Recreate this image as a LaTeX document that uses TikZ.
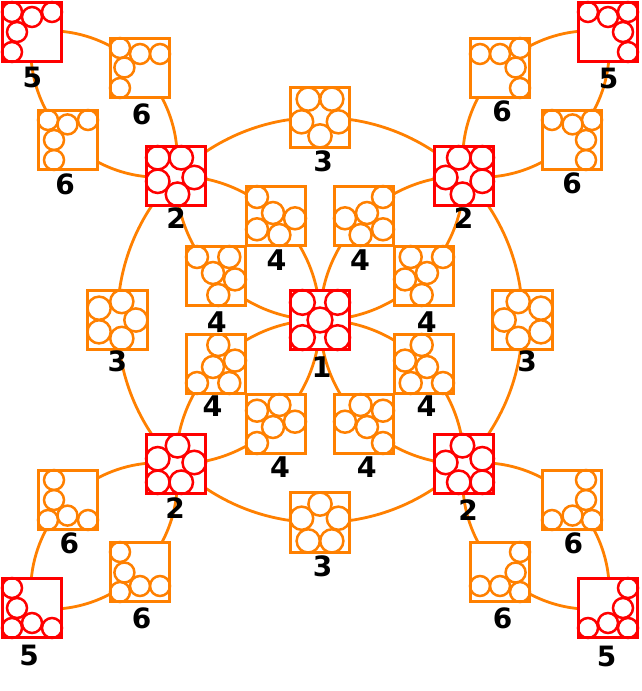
\documentclass[tikz,border=0pt]{standalone}
\usepackage{fontspec}
\newfontfamily\lfA{DejaVu Sans}
\usetikzlibrary{backgrounds}
\definecolor{orng}{RGB}{255,128,0}
\definecolor{rd}{RGB}{255,0,0}
\newcommand\drawpack[4]{\begin{scope}[shift={(#1)}]\foreach \a/\b in {#4} \draw[#2] (\a,\b) circle[radius=#3];\end{scope}}
\begin{document}
\begin{tikzpicture}[x=1pt,y=1pt,
  rbox/.style={rectangle,draw=rd,line width=2.7pt,fill=white,minimum size=59.5pt,inner sep=0pt},
  obox/.style={rectangle,draw=orng,line width=2.7pt,fill=white,minimum size=59.5pt,inner sep=0pt},
  rc/.style={draw=rd,line width=2.5pt},
  oc/.style={draw=orng,line width=2.5pt},
  cn/.style={draw=orng,line width=2.8pt,looseness=0.89},
  lab/.style={font=\lfA\bfseries\fontsize{28}{30}\selectfont,inner sep=0pt},
  labm/.style={font=\lfA\bfseries\fontsize{28.5}{30}\selectfont,inner sep=0pt}]
\useasboundingbox (0,0) rectangle (641,-691);
% boxes
\node[rbox] (n1) at (320,-320) {};
\node[rbox] (n2a) at (176,-176) {};
\node[rbox] (n2b) at (464,-176) {};
\node[rbox] (n2c) at (464,-464) {};
\node[rbox] (n2d) at (176,-464) {};
\node[obox] (n3t) at (320,-117.5) {};
\node[obox] (n3r) at (522.5,-320) {};
\node[obox] (n3b) at (320,-522.5) {};
\node[obox] (n3l) at (117.5,-320) {};
\node[obox] (n4tl) at (276,-216) {};
\node[obox] (n4tr) at (364,-216) {};
\node[obox] (n4lt) at (216,-276) {};
\node[obox] (n4rt) at (424,-276) {};
\node[obox] (n4lb) at (216,-364) {};
\node[obox] (n4rb) at (424,-364) {};
\node[obox] (n4bl) at (276,-424) {};
\node[obox] (n4br) at (364,-424) {};
\node[obox] (n6a) at (140,-68) {};
\node[obox] (n6b) at (68,-140) {};
\node[obox] (n6c) at (500,-68) {};
\node[obox] (n6d) at (572,-140) {};
\node[obox] (n6e) at (572,-500) {};
\node[obox] (n6f) at (500,-572) {};
\node[obox] (n6g) at (140,-572) {};
\node[obox] (n6h) at (68,-500) {};
\node[rbox] (n5a) at (32,-32) {};
\node[rbox] (n5b) at (608,-32) {};
\node[rbox] (n5c) at (608,-608) {};
\node[rbox] (n5d) at (32,-608) {};
% connectors
\begin{scope}[on background layer]
\fill[white] (0,0) rectangle (641,-691);
\draw[cn] (n2a.center) to[bend left=22.5] (n3t.center) to[bend left=22.5] (n2b.center)
  to[bend left=22.5] (n3r.center) to[bend left=22.5] (n2c.center)
  to[bend left=22.5] (n3b.center) to[bend left=22.5] (n2d.center)
  to[bend left=22.5] (n3l.center) to[bend left=22.5] (n2a.center);
\draw[cn] (n2a.center) to[bend left=22] (n4tl.center) to[bend left=23] (n1.center) to[bend left=23] (n4bl.center) to[bend left=22] (n2d.center);
\draw[cn] (n2b.center) to[bend left=22] (n4rt.center) to[bend left=23] (n1.center) to[bend left=23] (n4lt.center) to[bend left=22] (n2a.center);
\draw[cn] (n2c.center) to[bend left=22] (n4br.center) to[bend left=23] (n1.center) to[bend left=23] (n4tr.center) to[bend left=22] (n2b.center);
\draw[cn] (n2d.center) to[bend left=22] (n4lb.center) to[bend left=23] (n1.center) to[bend left=23] (n4rb.center) to[bend left=22] (n2c.center);
\draw[cn] (n5a.center) to[bend left=26.5] (n6a.center) to[bend left=26.5] (n2a.center);
\draw[cn] (n2a.center) to[bend left=26.5] (n6b.center) to[bend left=26.5] (n5a.center);
\draw[cn] (n2b.center) to[bend left=26.5] (n6c.center) to[bend left=26.5] (n5b.center);
\draw[cn] (n5b.center) to[bend left=26.5] (n6d.center) to[bend left=26.5] (n2b.center);
\draw[cn] (n5c.center) to[bend left=26.5] (n6f.center) to[bend left=26.5] (n2c.center);
\draw[cn] (n2c.center) to[bend left=26.5] (n6e.center) to[bend left=26.5] (n5c.center);
\draw[cn] (n2d.center) to[bend left=26.5] (n6g.center) to[bend left=26.5] (n5d.center);
\draw[cn] (n5d.center) to[bend left=26.5] (n6h.center) to[bend left=26.5] (n2d.center);
\end{scope}
% packings
\drawpack{n1}{rc}{12.4pt}{-17.6/17.6,17.6/17.6,0/0,-17.6/-17.6,17.6/-17.6}
\drawpack{n2a}{rc}{11.75pt}{-18.25/18.25,5.25/18.25,18.25/-1.5,-18.25/-5.25,1.5/-18.25}
\drawpack{n2b}{rc}{11.75pt}{18.25/18.25,-5.25/18.25,-18.25/-1.5,18.25/-5.25,-1.5/-18.25}
\drawpack{n2d}{rc}{11.75pt}{-18.25/-18.25,5.25/-18.25,18.25/1.5,-18.25/5.25,1.5/18.25}
\drawpack{n2c}{rc}{11.75pt}{18.25/-18.25,-5.25/-18.25,-18.25/1.5,18.25/5.25,-1.5/18.25}
\drawpack{n3t}{oc}{11.6pt}{-11.8/18.4,11.8/18.4,-18.4/-4.3,18.4/-4.3,0/-18.4}
\drawpack{n3b}{oc}{11.6pt}{-11.8/-18.4,11.8/-18.4,-18.4/4.3,18.4/4.3,0/18.4}
\drawpack{n3l}{oc}{11.6pt}{-18.4/11.8,-18.4/-11.8,4.3/18.4,4.3/-18.4,18.4/0}
\drawpack{n3r}{oc}{11.6pt}{18.4/11.8,18.4/-11.8,-4.3/18.4,-4.3/-18.4,-18.4/0}
\drawpack{n4tl}{oc}{11pt}{-19/19,-3/3,19/-2.3,-19/-13.3,3.4/-19}
\drawpack{n4tr}{oc}{11pt}{19/19,3/3,-19/-2.3,19/-13.3,-3.4/-19}
\drawpack{n4bl}{oc}{11pt}{-19/-19,-3/-3,19/2.3,-19/13.3,3.4/19}
\drawpack{n4br}{oc}{11pt}{19/-19,3/-3,-19/2.3,19/13.3,-3.4/19}
\drawpack{n4lt}{oc}{11pt}{-19/19,-3/3,2.3/-19,13.3/19,19/-3.4}
\drawpack{n4rt}{oc}{11pt}{19/19,3/3,-2.3/-19,-13.3/19,-19/-3.4}
\drawpack{n4lb}{oc}{11pt}{-19/-19,-3/-3,2.3/19,13.3/-19,19/3.4}
\drawpack{n4rb}{oc}{11pt}{19/-19,3/-3,-2.3/19,-13.3/-19,-19/3.4}
\drawpack{n5a}{rc}{10pt}{-20/20,0/15,20/20,-15/0,-20/-20}
\drawpack{n5b}{rc}{10pt}{20/20,0/15,-20/20,15/0,20/-20}
\drawpack{n5d}{rc}{10pt}{-20/-20,0/-15,20/-20,-15/0,-20/20}
\drawpack{n5c}{rc}{10pt}{20/-20,0/-15,-20/-20,15/0,20/20}
\drawpack{n6a}{oc}{10pt}{-20/20,0/14,20/14,-15.6/0.5,-20/-20}
\drawpack{n6b}{oc}{10pt}{-20/20,-14/0,-14/-20,-0.5/15.6,20/20}
\drawpack{n6c}{oc}{10pt}{20/20,0/14,-20/14,15.6/0.5,20/-20}
\drawpack{n6d}{oc}{10pt}{20/20,14/0,14/-20,0.5/15.6,-20/20}
\drawpack{n6h}{oc}{10pt}{-20/-20,-14/0,-14/20,-0.5/-15.6,20/-20}
\drawpack{n6g}{oc}{10pt}{-20/-20,0/-14,20/-14,-15.6/-0.5,-20/20}
\drawpack{n6e}{oc}{10pt}{20/-20,14/0,14/20,0.5/-15.6,-20/-20}
\drawpack{n6f}{oc}{10pt}{20/-20,0/-14,-20/-14,15.6/-0.5,20/20}
% labels
\node[labm] (l1) at (321.5,-366.7) {1};
\node[lab] (l2a) at (176,-218.5) {2};
\node[lab] (l2b) at (463.7,-218.5) {2};
\node[lab] (l2c) at (468,-510) {2};
\node[lab] (l2d) at (175,-508.5) {2};
\node[lab] (l3t) at (323,-161.7) {3};
\node[lab] (l3r) at (527,-361.7) {3};
\node[lab] (l3b) at (322.5,-566) {3};
\node[lab] (l3l) at (117.3,-361.7) {3};
\node[labm] (l4tl) at (276.5,-260) {4};
\node[labm] (l4tr) at (360,-260) {4};
\node[labm] (l4lt) at (216.7,-321.7) {4};
\node[labm] (l4rt) at (426.7,-321.7) {4};
\node[labm] (l4lb) at (212.5,-406) {4};
\node[labm] (l4rb) at (426.5,-406) {4};
\node[labm] (l4bl) at (280,-466.7) {4};
\node[labm] (l4br) at (366.7,-466.7) {4};
\node[lab] (l5a) at (32.3,-77.3) {5};
\node[lab] (l5b) at (608.7,-78.3) {5};
\node[lab] (l5c) at (606.7,-656.5) {5};
\node[lab] (l5d) at (29,-655) {5};
\node[lab] (l6a) at (141.7,-114) {6};
\node[lab] (l6b) at (65,-184) {6};
\node[lab] (l6c) at (502,-111.7) {6};
\node[lab] (l6d) at (572,-183.3) {6};
\node[lab] (l6e) at (573.3,-543.3) {6};
\node[lab] (l6f) at (502.7,-618.3) {6};
\node[lab] (l6g) at (141.7,-618.3) {6};
\node[lab] (l6h) at (69.3,-543.3) {6};
\end{tikzpicture}
\end{document}
